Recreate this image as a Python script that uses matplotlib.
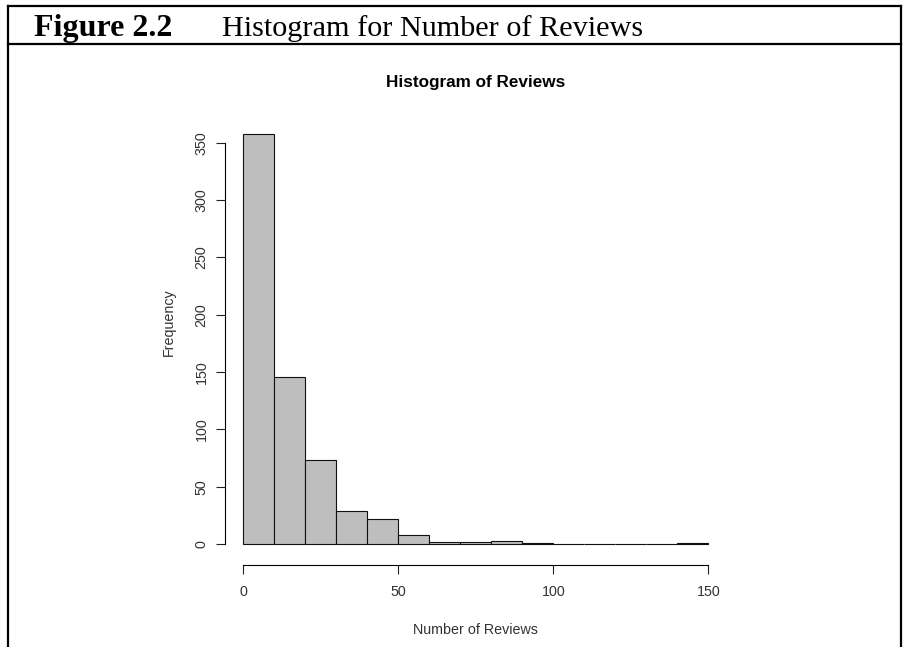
import matplotlib
matplotlib.use("Agg")
import matplotlib.pyplot as plt
from matplotlib.lines import Line2D

# histogram counts, 10-wide bins from 0 to 150
bin_left = [0, 10, 20, 30, 40, 50, 60, 70, 80, 90, 100, 110, 120, 130, 140]
counts = [358, 146, 73, 29, 22, 8, 2, 2, 3, 1, 0, 0, 0, 0, 1]
x_ticks = [0, 50, 100, 150]
y_ticks = [0, 50, 100, 150, 200, 250, 300, 350]

W, H = 904, 647
fig = plt.figure(figsize=(W / 100, H / 100), dpi=100)


def fx(px):
    return px / W


def fy(py):
    return 1 - py / H


# frame around the figure (no bottom line)
lw_box = 1.6
fig.add_artist(Line2D([fx(7.5), fx(901)], [fy(6), fy(6)], color="black", lw=lw_box, transform=fig.transFigure))
fig.add_artist(Line2D([fx(7.5), fx(901)], [fy(44), fy(44)], color="black", lw=lw_box, transform=fig.transFigure))
fig.add_artist(Line2D([fx(7.5), fx(7.5)], [fy(6), 0], color="black", lw=lw_box, transform=fig.transFigure))
fig.add_artist(Line2D([fx(901), fx(901)], [fy(6), 0], color="black", lw=lw_box, transform=fig.transFigure))

fig.text(fx(34), fy(36), "Figure 2.2", family="Liberation Serif", weight="bold",
         fontsize=23, ha="left", va="baseline")
fig.text(fx(222), fy(36), "Histogram for Number of Reviews", family="Liberation Serif",
         fontsize=21.8, ha="left", va="baseline")

# plot region (R style: 4% padding on both axes)
ymin, ymax = -14.3, 372.3
xmin, xmax = -6, 156
left, right = 224.7, 726.9
top, bottom = 117.3, 560.4
ax = fig.add_axes([fx(left), fy(bottom), fx(right) - fx(left), fy(top) - fy(bottom)])

ax.bar(bin_left, counts, width=10, align="edge", color="#bebebe",
       edgecolor="#111111", linewidth=0.8)

ax.set_xlim(xmin, xmax)
ax.set_ylim(ymin, ymax)

for s in ["top", "right"]:
    ax.spines[s].set_visible(False)
ax.spines["left"].set_bounds(0, 350)
ax.spines["bottom"].set_bounds(0, 150)
ax.spines["bottom"].set_position(("outward", 3))
for s in ["left", "bottom"]:
    ax.spines[s].set_linewidth(0.8)

ax.set_xticks(x_ticks)
ax.set_yticks(y_ticks)
ax.set_yticklabels([str(v) for v in y_ticks], rotation=90, va="center")
ax.tick_params(axis="both", length=6.5, width=0.8, labelsize=10.3, colors="#222222",
               labelcolor="#333333")
ax.tick_params(axis="x", pad=8)
ax.tick_params(axis="y", pad=5)
for lab in ax.get_xticklabels() + ax.get_yticklabels():
    lab.set_family("Liberation Sans")

ax.set_title("Histogram of Reviews", family="Liberation Sans", weight="bold",
             fontsize=12.3, pad=21.5)
ax.set_xlabel("Number of Reviews", family="Liberation Sans", fontsize=10.3, color="#333333")
ax.set_ylabel("Frequency", family="Liberation Sans", fontsize=10.3, color="#333333")
ax.xaxis.set_label_coords(0.5, -(630.5 - bottom) / (bottom - top), transform=ax.transAxes)
ax.yaxis.set_label_coords(-(left - 169) / (right - left), (bottom - 322) / (bottom - top),
                          transform=ax.transAxes)
ax.xaxis.label.set_va("center")
ax.yaxis.label.set_va("center")

plt.savefig("out.png", dpi=100)
